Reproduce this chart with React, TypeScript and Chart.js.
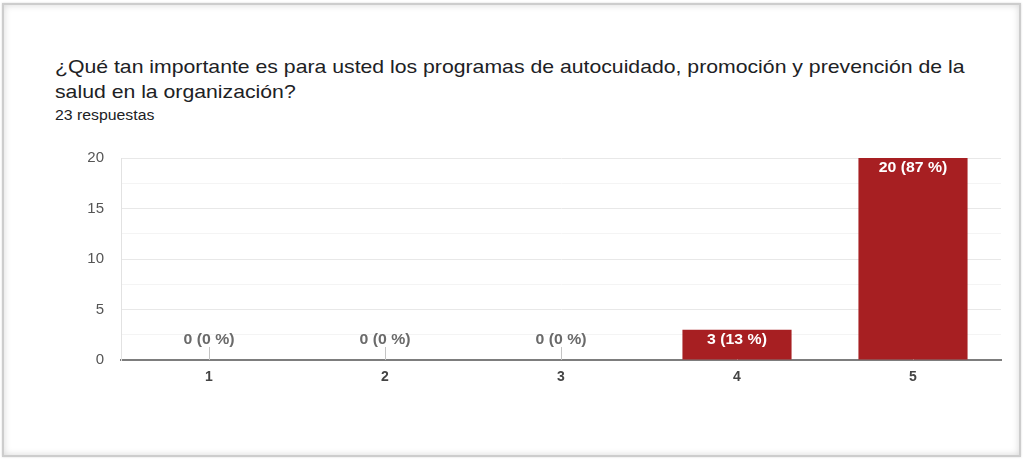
import React, { useEffect, useRef } from "react";
import { Chart, registerables } from "chart.js";

Chart.register(...registerables);

const categories = ["1", "2", "3", "4", "5"];
const counts = [0, 0, 0, 3, 20];
const totalResponses = 23;
const yMax = 20;
const yStep = 2.5;
const titleLines = [
  "¿Qué tan importante es para usted los programas de autocuidado, promoción y prevención de la",
  "salud en la organización?",
];
const subtitle = "23 respuestas";

const FONT = "Arial, 'Liberation Sans', Helvetica, sans-serif";

const tickMarks = {
  id: "tickMarks",
  beforeDatasetsDraw(chart: any) {
    const { ctx, chartArea, scales } = chart;
    const x = scales.x;
    ctx.save();
    ctx.strokeStyle = "#c4c4c4";
    ctx.lineWidth = 1;
    categories.forEach((_, i) => {
      const px = Math.round(x.getPixelForValue(i)) + 0.5;
      ctx.beginPath();
      ctx.moveTo(px, chartArea.bottom - 13);
      ctx.lineTo(px, chartArea.bottom);
      ctx.stroke();
    });
    ctx.restore();
  },
};

const barLabels = {
  id: "barLabels",
  afterDatasetsDraw(chart: any) {
    const { ctx } = chart;
    const meta = chart.getDatasetMeta(0);
    meta.data.forEach((bar: any, i: number) => {
      const v = counts[i];
      const pct = Math.round((v / totalResponses) * 100);
      const text = `${v} (${pct} %)`;
      const y = v === 0 ? bar.y - 20 : bar.y + 10;
      ctx.save();
      ctx.font = `bold 14px ${FONT}`;
      ctx.textAlign = "center";
      ctx.textBaseline = "middle";
      ctx.fillStyle = v === 0 ? "#6a6a6a" : "#ffffff";
      ctx.translate(bar.x, y);
      ctx.scale(1.13, 1);
      ctx.fillText(text, 0, 0);
      ctx.restore();
    });
  },
};

function BarChart() {
  const ref = useRef<HTMLCanvasElement | null>(null);
  useEffect(() => {
    if (!ref.current) return;
    const chart = new Chart(ref.current, {
      type: "bar",
      data: {
        labels: categories,
        datasets: [
          {
            data: counts,
            backgroundColor: "#a71f22",
            borderWidth: 0,
            barPercentage: 0.62,
            categoryPercentage: 1.0,
          },
        ],
      },
      options: {
        animation: false,
        responsive: false,
        maintainAspectRatio: false,
        layout: { padding: { top: 158, left: 0, right: 22, bottom: 70 } },
        plugins: {
          legend: { display: false },
          tooltip: { enabled: false },
          title: { display: false },
        },
        scales: {
          x: {
            offset: true,
            grid: { display: false, drawTicks: false },
            border: { display: true, color: "#7d7d7d", width: 2 },
            ticks: {
              padding: 9,
              color: "#444444",
              font: { family: FONT, size: 14, weight: "bold" },
            },
            afterFit(scale: any) {
              scale.height = 30;
            },
          },
          y: {
            min: 0,
            max: yMax,
            grid: {
              drawTicks: false,
              color: (ctx: any) =>
                ctx.tick && ctx.tick.value % 5 === 0 ? "#e8e8e8" : "#f4f4f4",
            },
            border: { display: true, color: "#e2e2e2", width: 1 },
            ticks: {
              stepSize: yStep,
              padding: 17,
              color: "#555555",
              font: { family: FONT, size: 15 },
              callback: (v: any) => (Number(v) % 5 === 0 ? String(v) : ""),
            },
            afterFit(scale: any) {
              scale.width = 121;
            },
          },
        },
      },
      plugins: [tickMarks, barLabels],
    } as any);
    return () => chart.destroy();
  }, []);
  return (
    <canvas
      ref={ref}
      width={1023}
      height={460}
      style={{ position: "absolute", left: 0, top: 0, width: 1023, height: 460 }}
    />
  );
}

export default function App() {
  useEffect(() => {
    document.body.style.margin = "0";
  }, []);
  return (
    <div
      style={{
        position: "relative",
        width: 1023,
        height: 460,
        background: "#ffffff",
        overflow: "hidden",
        fontFamily: FONT,
      }}
    >
      <div
        style={{
          position: "absolute",
          left: 2,
          top: 3,
          width: 1019,
          height: 454,
          boxSizing: "border-box",
          border: "2px solid #cdcdcd",
          boxShadow: "inset 0 0 7px rgba(0,0,0,0.16), 0 0 2px rgba(0,0,0,0.15)",
          background: "#ffffff",
        }}
      />
      <div
        style={{
          position: "absolute",
          left: 55,
          top: 54,
          fontSize: 19,
          lineHeight: "25px",
          color: "#202124",
          whiteSpace: "nowrap",
          transform: "scaleX(1.117)",
          transformOrigin: "0 0",
        }}
      >
        {titleLines.map((l, i) => (
          <div key={i}>{l}</div>
        ))}
      </div>
      <div
        style={{
          position: "absolute",
          left: 55,
          top: 107,
          fontSize: 14,
          lineHeight: "16px",
          color: "#202124",
          whiteSpace: "nowrap",
          transform: "scaleX(1.13)",
          transformOrigin: "0 0",
        }}
      >
        {subtitle}
      </div>
      <BarChart />
    </div>
  );
}
